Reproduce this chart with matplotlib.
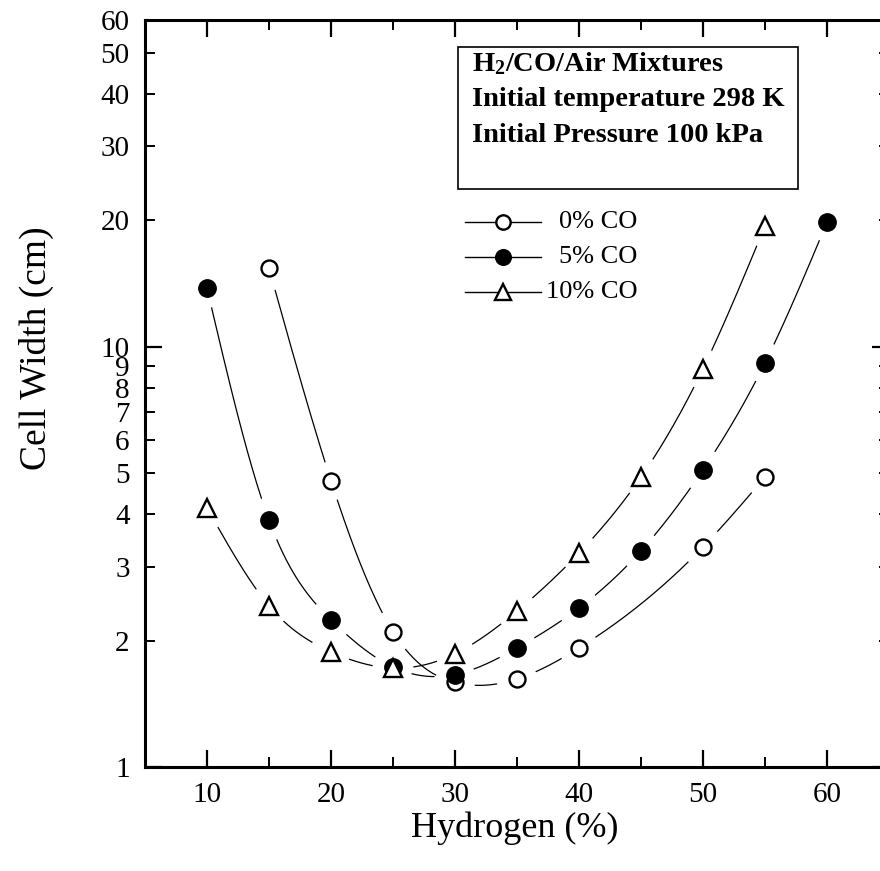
import numpy as np
import matplotlib
matplotlib.use('Agg')
import matplotlib.pyplot as plt
from matplotlib.ticker import FixedLocator, FixedFormatter
from matplotlib.patches import Rectangle

plt.rcParams['font.family'] = ['Liberation Serif', 'DejaVu Serif']
plt.rcParams['mathtext.fontset'] = 'custom'
plt.rcParams['mathtext.rm'] = 'Liberation Serif'
plt.rcParams['mathtext.bf'] = 'Liberation Serif:bold'

# cell width (cm) against hydrogen content (%)
h2_0 = [15, 20, 25, 30, 35, 40, 50, 55]
cw_0 = [15.4, 4.8, 2.1, 1.59, 1.62, 1.92, 3.34, 4.9]

h2_5 = [10, 15, 20, 25, 30, 35, 40, 45, 50, 55, 60]
cw_5 = [13.8, 3.87, 2.24, 1.73, 1.66, 1.92, 2.39, 3.27, 5.1, 9.16, 19.8]

h2_10 = [10, 15, 20, 25, 30, 35, 40, 45, 50, 55]
cw_10 = [4.14, 2.42, 1.88, 1.72, 1.86, 2.35, 3.23, 4.9, 8.87, 19.4]

labels = ['0% CO', '5% CO', '10% CO']

ytick_major = [1, 10]
ytick_minor = [2, 3, 4, 5, 6, 7, 8, 9, 20, 30, 40, 50, 60]


def natural_spline(xs, ys, n=400):
    xs = np.asarray(xs, float)
    ys = np.asarray(ys, float)
    k = len(xs)
    h = np.diff(xs)
    A = np.zeros((k, k))
    b = np.zeros(k)
    A[0, 0] = A[-1, -1] = 1.0
    for i in range(1, k - 1):
        A[i, i - 1] = h[i - 1]
        A[i, i] = 2 * (h[i - 1] + h[i])
        A[i, i + 1] = h[i]
        b[i] = 6 * ((ys[i + 1] - ys[i]) / h[i] - (ys[i] - ys[i - 1]) / h[i - 1])
    M = np.linalg.solve(A, b)
    xf = np.linspace(xs[0], xs[-1], n)
    idx = np.clip(np.searchsorted(xs, xf) - 1, 0, k - 2)
    x0, x1 = xs[idx], xs[idx + 1]
    hh = x1 - x0
    t0 = x1 - xf
    t1 = xf - x0
    yf = (M[idx] * t0 ** 3 + M[idx + 1] * t1 ** 3) / (6 * hh) \
        + (ys[idx] / hh - M[idx] * hh / 6) * t0 \
        + (ys[idx + 1] / hh - M[idx + 1] * hh / 6) * t1
    return xf, yf


fig = plt.figure(figsize=(8.8, 8.71), dpi=100)
ax = fig.add_axes([145 / 880, 104 / 871, 744 / 880, 747 / 871])
ax.set_yscale('log')
ax.set_xlim(5, 65)
ax.set_ylim(1, 60)

series = [
    (h2_0, cw_0, dict(marker='o', mfc='white', mec='black', ms=11.5, mew=1.7)),
    (h2_5, cw_5, dict(marker='o', mfc='black', mec='black', ms=12.5, mew=1.0)),
    (h2_10, cw_10, dict(marker='^', mfc='white', mec='black', ms=13, mew=1.7)),
]

gap = 20  # px of empty line around each marker
for xs, ys, style in series:
    xf, lyf = natural_spline(xs, np.log10(ys))
    yf = 10 ** lyf
    disp = ax.transData.transform(np.column_stack([xf, yf]))
    pts = ax.transData.transform(np.column_stack([xs, ys]))
    d = np.min(np.hypot(disp[:, None, 0] - pts[None, :, 0],
                        disp[:, None, 1] - pts[None, :, 1]), axis=1)
    yf = np.where(d < gap, np.nan, yf)
    ax.plot(xf, yf, color='black', lw=0.9, zorder=2)
    ax.plot(xs, ys, ls='none', zorder=3, clip_on=False, **style)

# ticks
ax.xaxis.set_major_locator(FixedLocator([10, 20, 30, 40, 50, 60]))
ax.xaxis.set_minor_locator(FixedLocator([15, 25, 35, 45, 55]))
ax.yaxis.set_major_locator(FixedLocator(ytick_major))
ax.yaxis.set_minor_locator(FixedLocator(ytick_minor))
ax.yaxis.set_major_formatter(FixedFormatter([str(v) for v in ytick_major]))
ax.yaxis.set_minor_formatter(FixedFormatter([str(v) for v in ytick_minor]))
ax.tick_params(which='both', direction='in', top=True, right=True,
               labelsize=21, pad=11)
ax.tick_params(which='major', length=12, width=1.6)
ax.tick_params(which='minor', length=7, width=1.4)
for side in ax.spines.values():
    side.set_linewidth(2.2)

ax.set_xlabel('Hydrogen (%)', fontsize=26)
ax.set_ylabel('Cell Width (cm)', fontsize=27)
ax.xaxis.set_label_coords(0.497, -0.06)
ax.yaxis.set_label_coords(-0.122, 0.56)

# condition box
ax.add_patch(Rectangle((0.4207, 0.7738), 0.457, 0.1901, transform=ax.transAxes,
                       fill=False, lw=1.2, ec='black', zorder=4))
info = [r'$\mathbf{H_2}$' + '/CO/Air Mixtures',
        'Initial temperature 298 K',
        'Initial Pressure 100 kPa']
for i, line in enumerate(info):
    ax.text(0.4395, 0.941 - i * 0.0475, line, transform=ax.transAxes,
            fontsize=20.5, fontweight='bold', va='center', ha='left')

# legend
for i, (xs, ys, style) in enumerate(series):
    yl = 0.729 - i * 0.0465
    ax.plot([0.430, 0.532], [yl, yl], transform=ax.transAxes, color='black', lw=1.0)
    st = dict(style)
    st['ms'] = st['ms'] * 0.9
    ax.plot([0.481], [yl], transform=ax.transAxes, ls='none', **st)
    ax.text(0.662, yl, labels[i], transform=ax.transAxes, fontsize=19,
            va='center', ha='right')

fig.savefig('out.png', dpi=100)
